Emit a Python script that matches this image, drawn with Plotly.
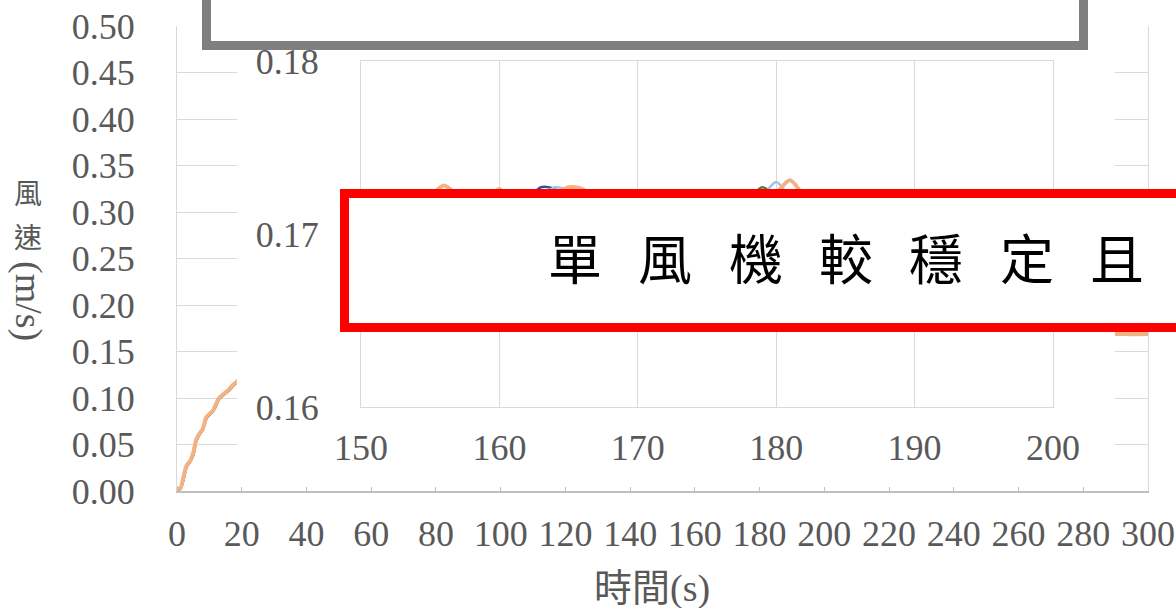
import plotly.graph_objects as go

# ---- data -----------------------------------------------------------------
time_s = [
    0, 1, 2, 3, 4, 5, 6, 7, 8, 9, 10, 11, 12, 13, 14, 15, 16, 17, 18, 19, 20,
    22, 24, 26, 28, 30,
    35, 40, 45, 50, 55, 60, 65, 70, 75, 80, 85, 90, 95, 100, 105, 110, 115,
    120, 125, 130, 135, 140, 145,
    150, 151, 152, 153, 154, 155, 156, 157, 158, 159, 160, 161, 162, 163, 164,
    165, 166, 167, 168, 169, 170, 171, 172, 173, 174, 175, 176, 177, 178, 179,
    180, 181, 182, 183, 184, 185, 186, 187, 188, 189, 190, 191, 192, 193, 194,
    195, 196, 197, 198, 199, 200,
    205, 210, 215, 220, 225, 230, 235, 240, 245, 250, 255, 260, 265, 270, 275,
    280, 285, 290, 295, 300,
]

speed_fan_a = [
    0.002, 0.002, 0.012, 0.026, 0.031, 0.038, 0.054, 0.061, 0.066, 0.077, 0.082,
    0.085, 0.091, 0.099, 0.102, 0.105, 0.108, 0.112, 0.115, 0.118, 0.121,
    0.126, 0.132, 0.138, 0.143, 0.148,
    0.156, 0.161, 0.165, 0.167, 0.168, 0.169, 0.169, 0.170, 0.170, 0.171, 0.170,
    0.171, 0.170, 0.171, 0.171, 0.170, 0.171, 0.171, 0.170, 0.171, 0.171, 0.170,
    0.171,
    0.1708, 0.1711, 0.1706, 0.1710, 0.1714, 0.1709, 0.1713, 0.1716, 0.1711,
    0.1707, 0.1712, 0.1716, 0.1720, 0.1727, 0.1726, 0.1718, 0.1712, 0.1709,
    0.1713, 0.1710, 0.1706, 0.1709, 0.1713, 0.1710, 0.1707, 0.1711, 0.1714,
    0.1710, 0.1715, 0.1719, 0.1721, 0.1716, 0.1711, 0.1708, 0.1705, 0.1709,
    0.1712, 0.1708, 0.1705, 0.1709, 0.1711, 0.1707, 0.1704, 0.1708, 0.1711,
    0.1707, 0.1704, 0.1707, 0.1710, 0.1706, 0.1708,
    0.1703, 0.1700, 0.1699, 0.1697, 0.1696, 0.1694, 0.1693, 0.1692, 0.1691,
    0.1690, 0.1689, 0.1689, 0.1688, 0.1688, 0.1687, 0.1687, 0.1686, 0.1687,
    0.1685, 0.1686,
]

speed_fan_b = [
    0.003, 0.003, 0.013, 0.027, 0.031, 0.039, 0.055, 0.061, 0.066, 0.078, 0.082,
    0.086, 0.092, 0.099, 0.103, 0.106, 0.108, 0.112, 0.116, 0.119, 0.121,
    0.127, 0.133, 0.138, 0.144, 0.148,
    0.157, 0.162, 0.165, 0.167, 0.168, 0.169, 0.170, 0.170, 0.170, 0.170, 0.171,
    0.170, 0.171, 0.171, 0.170, 0.171, 0.171, 0.170, 0.171, 0.171, 0.170, 0.171,
    0.171,
    0.1710, 0.1713, 0.1708, 0.1712, 0.1716, 0.1711, 0.1715, 0.1712, 0.1709,
    0.1713, 0.1717, 0.1712, 0.1718, 0.1725, 0.1719, 0.1714, 0.1710, 0.1713,
    0.1709, 0.1706, 0.1710, 0.1714, 0.1711, 0.1708, 0.1712, 0.1715, 0.1711,
    0.1714, 0.1720, 0.1727, 0.1722, 0.1715, 0.1711, 0.1708, 0.1711, 0.1714,
    0.1710, 0.1707, 0.1710, 0.1713, 0.1709, 0.1706, 0.1709, 0.1712, 0.1708,
    0.1705, 0.1708, 0.1711, 0.1707, 0.1709, 0.1706,
    0.1704, 0.1701, 0.1700, 0.1698, 0.1697, 0.1695, 0.1694, 0.1693, 0.1692,
    0.1691, 0.1690, 0.1690, 0.1689, 0.1689, 0.1688, 0.1688, 0.1687, 0.1688,
    0.1687, 0.1687,
]

speed_fan_c = [
    0.001, 0.002, 0.014, 0.027, 0.032, 0.040, 0.055, 0.062, 0.067, 0.078, 0.083,
    0.086, 0.092, 0.100, 0.103, 0.106, 0.109, 0.113, 0.116, 0.119, 0.122,
    0.127, 0.133, 0.139, 0.144, 0.149,
    0.157, 0.162, 0.165, 0.167, 0.168, 0.169, 0.170, 0.171, 0.170, 0.171, 0.171,
    0.170, 0.171, 0.171, 0.171, 0.170, 0.171, 0.172, 0.171, 0.171, 0.171, 0.172,
    0.171,
    0.1711, 0.1714, 0.1710, 0.1713, 0.1717, 0.1713, 0.1710, 0.1714, 0.1718,
    0.1713, 0.1709, 0.1712, 0.1716, 0.1721, 0.1727, 0.1725, 0.1716, 0.1711,
    0.1708, 0.1712, 0.1715, 0.1711, 0.1708, 0.1711, 0.1715, 0.1712, 0.1709,
    0.1713, 0.1717, 0.1722, 0.1730, 0.1721, 0.1714, 0.1710, 0.1713, 0.1709,
    0.1712, 0.1716, 0.1711, 0.1708, 0.1712, 0.1715, 0.1710, 0.1707, 0.1711,
    0.1714, 0.1709, 0.1706, 0.1710, 0.1713, 0.1709,
    0.1705, 0.1702, 0.1701, 0.1699, 0.1698, 0.1696, 0.1695, 0.1694, 0.1693,
    0.1692, 0.1691, 0.1691, 0.1690, 0.1690, 0.1689, 0.1689, 0.1688, 0.1690,
    0.1688, 0.1689,
]

speed_fan_d = [
    0.003, 0.003, 0.015, 0.028, 0.032, 0.041, 0.056, 0.062, 0.067, 0.079, 0.083,
    0.086, 0.093, 0.100, 0.103, 0.106, 0.109, 0.113, 0.116, 0.119, 0.122,
    0.127, 0.133, 0.139, 0.144, 0.149,
    0.157, 0.162, 0.165, 0.167, 0.168, 0.169, 0.170, 0.170, 0.171, 0.170, 0.171,
    0.171, 0.170, 0.171, 0.172, 0.171, 0.171, 0.172, 0.171, 0.172, 0.171, 0.171,
    0.172,
    0.1712, 0.1715, 0.1709, 0.1714, 0.1718, 0.1722, 0.1728, 0.1722, 0.1717,
    0.1719, 0.1726, 0.1711, 0.1714, 0.1719, 0.1723, 0.1727, 0.1726, 0.1719,
    0.1713, 0.1708, 0.1711, 0.1715, 0.1709, 0.1712, 0.1716, 0.1713, 0.1710,
    0.1714, 0.1718, 0.1721, 0.1724, 0.1731, 0.1722, 0.1715, 0.1711, 0.1708,
    0.1712, 0.1715, 0.1710, 0.1707, 0.1711, 0.1714, 0.1709, 0.1706, 0.1710,
    0.1713, 0.1708, 0.1705, 0.1709, 0.1712, 0.1708,
    0.1705, 0.1702, 0.1700, 0.1698, 0.1697, 0.1695, 0.1694, 0.1693, 0.1692,
    0.1691, 0.1690, 0.1690, 0.1689, 0.1689, 0.1688, 0.1688, 0.1687, 0.1689,
    0.1686, 0.1688,
]

series = [
    ("風機A", speed_fan_a, "#2F5597", 2.5),
    ("風機B", speed_fan_b, "#548235", 2.5),
    ("風機C", speed_fan_c, "#9DC3E6", 2.5),
    ("風機D", speed_fan_d, "#F4B183", 4),
]

main_x_ticks = [0, 20, 40, 60, 80, 100, 120, 140, 160, 180, 200, 220, 240,
                260, 280, 300]
main_y_ticks = [0.00, 0.05, 0.10, 0.15, 0.20, 0.25, 0.30, 0.35, 0.40, 0.45,
                0.50]
inset_x_ticks = [150, 160, 170, 180, 190, 200]
inset_y_ticks = [0.16, 0.17, 0.18]

note_chars = ["單", "風", "機", "較", "穩", "定", "且"]

# ---- styling ----------------------------------------------------------------
W, H = 1176, 608
ML, MR, MT, MB = 177, 28, 26, 117
PW, PH = W - ML - MR, H - MT - MB

TICK_FONT = dict(family="Liberation Serif, Times New Roman, serif",
                 size=36, color="#595959")
CJK_FONT = "Liberation Serif, Noto Sans CJK TC, serif"
GRID = "#D9D9D9"


def px_x(p):
    """pixel column -> paper x"""
    return (p - ML) / PW


def px_y(p):
    """pixel row -> paper y"""
    return (H - MB - p) / PH


fig = go.Figure()

# main chart lines
for name, ys, color, w in series:
    fig.add_trace(go.Scatter(
        x=time_s, y=ys, mode="lines", name=name,
        line=dict(color=color, width=w, shape="spline", smoothing=0.8),
        xaxis="x", yaxis="y", hoverinfo="skip", showlegend=False))

# white panel behind the zoomed-in chart
panel_x = [18.5, 289.8, 289.8, 18.5, 18.5]
panel_y = [0.011, 0.011, 0.497, 0.497, 0.011]
fig.add_trace(go.Scatter(
    x=panel_x, y=panel_y, mode="lines", fill="toself",
    fillcolor="white", line=dict(width=0, color="white"),
    xaxis="x", yaxis="y", hoverinfo="skip", showlegend=False))

# zoomed-in chart lines
for name, ys, color, w in series:
    fig.add_trace(go.Scatter(
        x=time_s, y=ys, mode="lines", name=name,
        line=dict(color=color, width=w, shape="spline", smoothing=0.8),
        xaxis="x2", yaxis="y2", hoverinfo="skip", showlegend=False))

fig.update_layout(
    width=W, height=H,
    margin=dict(l=ML, r=MR, t=MT, b=MB, pad=0, autoexpand=False),
    paper_bgcolor="white", plot_bgcolor="white",
    showlegend=False,
    xaxis=dict(
        domain=[0, 1], range=[0, 300], tickvals=main_x_ticks,
        ticks="inside", ticklen=4, tickcolor="#BFBFBF", tickwidth=1,
        showline=True, linecolor="#BFBFBF", linewidth=1.5,
        showgrid=False, zeroline=False, tickfont=TICK_FONT,
        ticklabelstandoff=10, automargin=False),
    yaxis=dict(
        domain=[0, 1], range=[0, 0.5], tickvals=main_y_ticks,
        tickformat=".2f", ticks="",
        showline=True, linecolor=GRID, linewidth=1.3, mirror=True,
        showgrid=True, gridcolor=GRID, gridwidth=1.3, zeroline=False,
        tickfont=TICK_FONT, ticklabelstandoff=34, automargin=False),
    xaxis2=dict(
        domain=[px_x(361), px_x(1053)], anchor="y2", range=[150, 200],
        tickvals=inset_x_ticks, ticks="",
        showline=True, linecolor=GRID, linewidth=1.3, mirror=True,
        showgrid=True, gridcolor=GRID, gridwidth=1.3, zeroline=False,
        tickfont=TICK_FONT, ticklabelstandoff=9, automargin=False),
    yaxis2=dict(
        domain=[px_y(407), px_y(61)], anchor="x2", range=[0.16, 0.18],
        tickvals=inset_y_ticks, tickformat=".2f", ticks="",
        showline=True, linecolor=GRID, linewidth=1.3, mirror=True,
        showgrid=True, gridcolor=GRID, gridwidth=1.3, zeroline=False,
        tickfont=TICK_FONT, ticklabelstandoff=34, automargin=False),
)

# framed boxes drawn over the charts
fig.add_shape(type="rect", xref="paper", yref="paper",
              x0=px_x(206.5), x1=px_x(1083.5), y0=px_y(45.5), y1=px_y(-30),
              line=dict(color="#7F7F7F", width=9), fillcolor="white",
              layer="above")
fig.add_shape(type="rect", xref="paper", yref="paper",
              x0=px_x(344.5), x1=px_x(1250), y0=px_y(327.5), y1=px_y(193.5),
              line=dict(color="#FF0000", width=9), fillcolor="white",
              layer="above")

annotations = []
for i, ch in enumerate(note_chars):
    annotations.append(dict(
        text=ch, xref="paper", yref="paper",
        x=px_x(575 + i * 90.3), y=px_y(256), showarrow=False,
        xanchor="center", yanchor="middle",
        font=dict(family="Noto Sans CJK TC", size=54, color="black")))

# y-axis title: CJK stacked upright, unit rotated
for ch, row in (("風", 192), ("速", 236)):
    annotations.append(dict(
        text=ch, xref="paper", yref="paper", x=px_x(28), y=px_y(row),
        showarrow=False, xanchor="center", yanchor="middle",
        font=dict(family="Noto Sans CJK TC", size=28, color="#595959")))
annotations.append(dict(
    text="(m/s)", xref="paper", yref="paper", x=px_x(28), y=px_y(301),
    showarrow=False, xanchor="center", yanchor="middle", textangle=90,
    font=dict(family="Liberation Serif", size=38, color="#595959")))

# x-axis title
annotations.append(dict(
    text="時間(s)", xref="paper", yref="paper", x=px_x(652), y=px_y(588),
    showarrow=False, xanchor="center", yanchor="middle",
    font=dict(family=CJK_FONT, size=38, color="#595959")))

fig.update_layout(annotations=annotations)

fig.write_html("out.html")
